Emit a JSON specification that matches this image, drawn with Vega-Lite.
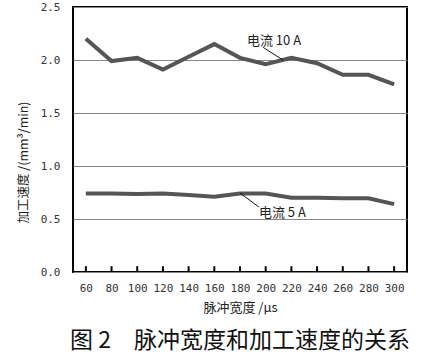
{
  "$schema": "https://vega.github.io/schema/vega-lite/v6.json",
  "autosize": "none",
  "width": 334,
  "height": 265,
  "padding": {"left": 73, "top": 7, "right": 17, "bottom": 86},
  "background": "white",
  "config": {
    "view": {"stroke": "#000", "strokeWidth": 2},
    "font": "Noto Sans CJK SC"
  },
  "title": {
    "text": "图 2　脉冲宽度和加工速度的关系",
    "orient": "bottom",
    "anchor": "middle",
    "font": "Noto Sans CJK SC",
    "fontSize": 23,
    "fontWeight": "normal",
    "color": "#111",
    "offset": 16
  },
  "resolve": {"scale": {"x": "independent"}, "axis": {"x": "independent"}},
  "datasets": {
    "series": [
      {"pw": 60, "v": 2.20, "s": "10A"},
      {"pw": 80, "v": 1.99, "s": "10A"},
      {"pw": 100, "v": 2.02, "s": "10A"},
      {"pw": 120, "v": 1.91, "s": "10A"},
      {"pw": 140, "v": 2.03, "s": "10A"},
      {"pw": 160, "v": 2.15, "s": "10A"},
      {"pw": 180, "v": 2.02, "s": "10A"},
      {"pw": 200, "v": 1.96, "s": "10A"},
      {"pw": 220, "v": 2.02, "s": "10A"},
      {"pw": 240, "v": 1.97, "s": "10A"},
      {"pw": 260, "v": 1.86, "s": "10A"},
      {"pw": 280, "v": 1.86, "s": "10A"},
      {"pw": 300, "v": 1.77, "s": "10A"},
      {"pw": 60, "v": 0.74, "s": "5A"},
      {"pw": 80, "v": 0.74, "s": "5A"},
      {"pw": 100, "v": 0.735, "s": "5A"},
      {"pw": 120, "v": 0.74, "s": "5A"},
      {"pw": 140, "v": 0.726, "s": "5A"},
      {"pw": 160, "v": 0.71, "s": "5A"},
      {"pw": 180, "v": 0.74, "s": "5A"},
      {"pw": 200, "v": 0.74, "s": "5A"},
      {"pw": 220, "v": 0.70, "s": "5A"},
      {"pw": 240, "v": 0.70, "s": "5A"},
      {"pw": 260, "v": 0.695, "s": "5A"},
      {"pw": 280, "v": 0.695, "s": "5A"},
      {"pw": 300, "v": 0.64, "s": "5A"}
    ],
    "ticks": [
      {"pw": 60}, {"pw": 80}, {"pw": 100}, {"pw": 120}, {"pw": 140}, {"pw": 160}, {"pw": 180},
      {"pw": 200}, {"pw": 220}, {"pw": 240}, {"pw": 260}, {"pw": 280}, {"pw": 300}
    ],
    "labels": [
      {"x": 185.4, "y": 2.18, "t": "电流 10 A"},
      {"x": 194.7, "y": 0.557, "t": "电流 5 A"}
    ],
    "leaders": [
      {"x": 197.9, "y": 2.12, "x2": 213.4, "y2": 2.0},
      {"x": 180, "y": 0.745, "x2": 194.7, "y2": 0.613}
    ]
  },
  "layer": [
    {
      "data": {"name": "series"},
      "mark": {"type": "line", "color": "#555", "strokeWidth": 4, "strokeJoin": "miter"},
      "encoding": {
        "x": {
          "field": "pw", "type": "ordinal",
          "scale": {"type": "point", "padding": 0.5},
          "axis": {
            "grid": false,
            "domain": false,
            "ticks": false,
            "labelAngle": 0,
            "labelOverlap": false,
            "labelPadding": 10,
            "labelFont": "DejaVu Sans Mono",
            "labelFontSize": 11,
            "labelColor": "#333",
            "title": "脉冲宽度 /μs",
            "titleFont": "Noto Sans CJK SC",
            "titleFontSize": 13,
            "titleFontWeight": "normal",
            "titleColor": "#222",
            "titlePadding": 8
          }
        },
        "y": {
          "field": "v", "type": "quantitative",
          "scale": {"domain": [0, 2.5], "nice": false},
          "axis": {
            "values": [0, 0.5, 1.0, 1.5, 2.0, 2.5],
            "format": ".1f",
            "grid": true,
            "gridColor": "#888",
            "gridWidth": 1.2,
            "gridOpacity": 1,
            "domain": false,
            "ticks": false,
            "labelPadding": 13,
            "labelFont": "DejaVu Sans Mono",
            "labelFontSize": 11,
            "labelColor": "#333",
            "title": "加工速度 /(mm³/min)",
            "titleFont": "Noto Sans CJK SC",
            "titleFontSize": 12.5,
            "titleFontWeight": "normal",
            "titleColor": "#222",
            "titlePadding": 10,
            "titleY": 155
          }
        },
        "detail": {"field": "s"}
      }
    },
    {
      "data": {"name": "ticks"},
      "mark": {"type": "rule", "color": "#000", "strokeWidth": 2},
      "encoding": {
        "x": {"field": "pw", "type": "ordinal", "scale": {"type": "point", "padding": 0.5}, "axis": null},
        "y": {"datum": 0},
        "y2": {"datum": 0.055}
      }
    },
    {
      "data": {"name": "leaders"},
      "mark": {"type": "rule", "color": "#111", "strokeWidth": 1},
      "encoding": {
        "x": {"field": "x", "type": "quantitative", "scale": {"domain": [50, 310], "nice": false, "zero": false}, "axis": null},
        "y": {"field": "y", "type": "quantitative"},
        "x2": {"field": "x2"},
        "y2": {"field": "y2"}
      }
    },
    {
      "data": {"name": "labels"},
      "mark": {"type": "text", "align": "left", "baseline": "middle", "fontSize": 13, "color": "#222", "font": "Noto Sans CJK SC"},
      "encoding": {
        "x": {"field": "x", "type": "quantitative", "scale": {"domain": [50, 310], "nice": false, "zero": false}, "axis": null},
        "y": {"field": "y", "type": "quantitative"},
        "text": {"field": "t"}
      }
    }
  ]
}
